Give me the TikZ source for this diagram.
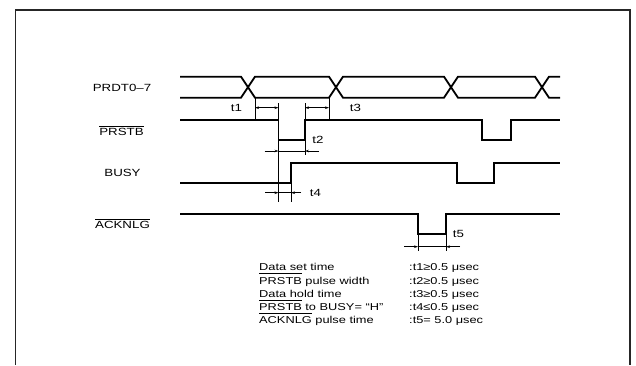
\documentclass[tikz,border=0pt]{standalone}
\usepackage{fontspec}
\setmainfont{Liberation Sans}[FakeStretch=1.28]
\usetikzlibrary{arrows.meta}
\newcommand\olsig[1]{\setbox0\hbox{#1}\rlap{\rule[\dimexpr\ht0+1.8pt\relax]{\wd0}{0.6pt}}#1}
\newcommand\olleg[1]{\setbox0\hbox{#1}\rlap{\rule[\dimexpr\ht0+3.3pt\relax]{\wd0}{0.6pt}}#1}
\tikzset{
  sig/.style={line width=1.8pt, line join=miter},
  ext/.style={line width=0.7pt},
  dim/.style={line width=0.6pt},
  tip/.style={-{Stealth[length=4pt,width=2.6pt]}, line width=0.6pt},
  lbl/.style={inner sep=0pt, font=\fontsize{10.4pt}{12pt}\selectfont},
  leg/.style={inner sep=0pt, anchor=base west, font=\fontsize{10pt}{12pt}\selectfont},
}
\begin{document}
\begin{tikzpicture}[x=1pt,y=-1pt]
\useasboundingbox (0,0) rectangle (636,365);
% frame
\draw[line width=1.1pt, black!85] (15.5,365) -- (15.5,10) -- (630,10) -- (630,365);

% signal labels
\node[lbl] (lprdt) at (122,87.7) {PRDT0–7};
\node[lbl] (lprstb) at (121.5,130.7) {\olsig{PRSTB}};
\node[lbl] (lbusy) at (122.5,172.7) {BUSY};
\node[lbl] (lack) at (122.5,224) {\olsig{ACKNLG}};

% PRDT0-7 data lines
\draw[sig] (180,76.7) -- (241,76.7) -- (255,97.7) -- (329,97.7) -- (343,76.7) -- (444,76.7) -- (458,97.7) -- (535,97.7) -- (549,76.7) -- (560,76.7);
\draw[sig] (180,97.7) -- (241,97.7) -- (255,76.7) -- (329,76.7) -- (343,97.7) -- (444,97.7) -- (458,76.7) -- (535,76.7) -- (549,97.7) -- (560,97.7);

% PRSTB
\draw[sig] (180,120) -- (278.5,120) -- (278.5,140) -- (305,140) -- (305,120) -- (482,120) -- (482,140) -- (511,140) -- (511,120) -- (560,120);
% BUSY
\draw[sig] (180,183) -- (291,183) -- (291,162.7) -- (457,162.7) -- (457,183) -- (494,183) -- (494,162.7) -- (560,162.7);
% ACKNLG
\draw[sig] (180,214) -- (418,214) -- (418,234.3) -- (446,234.3) -- (446,214) -- (560,214);

% extension lines
\coordinate (e1a) at (255,97.7);   \coordinate (e1b) at (255,120);
\coordinate (e3a) at (329,97.7);   \coordinate (e3b) at (329,120);
\coordinate (efa) at (278.5,103);  \coordinate (efb) at (278.5,202);
\coordinate (era) at (305,103);    \coordinate (erb) at (305,155);
\coordinate (eba) at (291,183);    \coordinate (ebb) at (291,202);
\coordinate (eka) at (418,234.3);  \coordinate (ekb) at (418,251);
\coordinate (ela) at (446,234.3);  \coordinate (elb) at (446,251);
\draw[ext] (e1a) -- (e1b);
\draw[ext] (e3a) -- (e3b);
\draw[ext] (efa) -- (efb);
\draw[ext] (era) -- (erb);
\draw[ext] (eba) -- (ebb);
\draw[ext] (eka) -- (ekb);
\draw[ext] (ela) -- (elb);

% t1
\coordinate (t1a) at (255,107.7); \coordinate (t1b) at (278.5,107.7); \coordinate (t1m) at (266.7,107.7);
\draw[tip] (t1m) -- (t1a); \draw[tip] (t1m) -- (t1b);
\node[lbl] (lt1) at (236.5,107.7) {t1};
% t3
\coordinate (t3a) at (305,107.7); \coordinate (t3b) at (329,107.7); \coordinate (t3m) at (317,107.7);
\draw[tip] (t3m) -- (t3a); \draw[tip] (t3m) -- (t3b);
\node[lbl] (lt3) at (355.5,107.7) {t3};
% t2
\coordinate (t2l) at (264.5,151); \coordinate (t2a) at (278.5,151);
\coordinate (t2b) at (305,151);   \coordinate (t2r) at (319,151);
\draw[dim] (t2a) -- (t2b);
\draw[tip] (t2l) -- (t2a); \draw[tip] (t2r) -- (t2b);
\node[lbl] (lt2) at (318,140) {t2};
% t4
\coordinate (t4l) at (265,192.7); \coordinate (t4a) at (278.5,192.7);
\coordinate (t4b) at (291,192.7);  \coordinate (t4r) at (301,192.7);
\draw[dim] (t4a) -- (t4b);
\draw[tip] (t4l) -- (t4a); \draw[tip] (t4r) -- (t4b);
\node[lbl] (lt4) at (315.5,192.7) {t4};
% t5
\coordinate (t5l) at (404,246.7); \coordinate (t5a) at (418,246.7);
\coordinate (t5b) at (446,246.7);  \coordinate (t5r) at (460,246.7);
\draw[dim] (t5a) -- (t5b);
\draw[tip] (t5l) -- (t5a); \draw[tip] (t5r) -- (t5b);
\node[lbl] (lt5) at (458.5,234.3) {t5};

% legend
\node[leg] (g1) at (259,270.8) {Data set time};
\node[leg] (g2) at (259,284.1) {\olleg{PRSTB} pulse width};
\node[leg] (g3) at (259,297.3) {Data hold time};
\node[leg] (g4) at (259,310.5) {\olleg{PRSTB} to BUSY= “H”};
\node[leg] (g5) at (259,323.7) {\olleg{ACKNLG} pulse time};
\node[leg] (v1) at (409,270.8) {:t1≥0.5 μsec};
\node[leg] (v2) at (409,284.1) {:t2≥0.5 μsec};
\node[leg] (v3) at (409,297.3) {:t3≥0.5 μsec};
\node[leg] (v4) at (409,310.5) {:t4≤0.5 μsec};
\node[leg] (v5) at (409,323.7) {:t5= 5.0 μsec};
\end{tikzpicture}
\end{document}
